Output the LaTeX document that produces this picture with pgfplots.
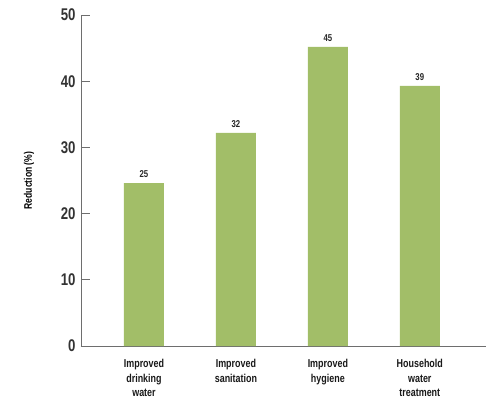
\documentclass[border=0pt]{standalone}
\usepackage{fontspec}
\setmainfont{Liberation Sans}[FakeStretch=0.78]
\usepackage{pgfplots}
\pgfplotsset{compat=1.18}
\definecolor{bargreen}{HTML}{A2BE68}
\definecolor{axgray}{HTML}{6E6E6E}
\begin{document}
\begin{tikzpicture}[x=1bp,y=1bp]
\useasboundingbox (-81bp,-52bp) rectangle (411bp,346bp);
\begin{axis}[
  at={(0,0)}, anchor=south west,
  scale only axis,
  width=405bp, height=331bp,
  xmin=-0.685, xmax=3.72,
  ymin=0, ymax=50,
  ytick={0,10,20,30,40,50},
  xtick={0,1,2,3},
  xticklabels={{Improved\\drinking\\water},{Improved\\sanitation},{Improved\\hygiene},{Household\\water\\treatment}},
  xticklabel style={align=center, font=\fontsize{11.5}{14.5}\selectfont\bfseries, text=black!90, yshift=-1bp},
  major x tick style={draw=none},
  axis x line*=bottom, axis y line*=left,
  axis line style={axgray, line width=1pt, -},
  y axis line style={-},
  tick align=inside,
  major tick length=9bp,
  ytick style={axgray, line width=1pt},
  yticklabel style={font=\fontsize{17}{17}\selectfont\bfseries, text=black!80, xshift=-2bp},
  /pgf/number format/assume math mode=true,
  ylabel={Reduction (\%)},
  every axis y label/.style={at={(-52bp,0.5)}, rotate=90, anchor=center, font=\fontsize{11}{11}\selectfont\bfseries, text=black},
  ybar, bar width=40bp,
  nodes near coords,
  nodes near coords style={font=\fontsize{10}{10}\selectfont\bfseries, text=black!85, yshift=2bp},
  point meta=explicit symbolic,
  clip=false,
]
\addplot[fill=bargreen, draw=none] coordinates {(0,24.6)[25] (1,32.2)[32] (2,45.2)[45] (3,39.3)[39]};
\end{axis}
\end{tikzpicture}
\end{document}
